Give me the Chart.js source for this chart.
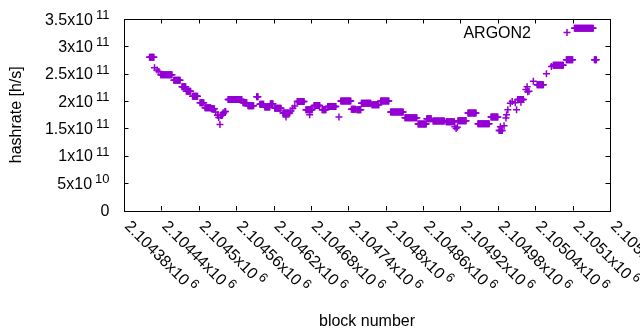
<!DOCTYPE html>
<html><head><meta charset="utf-8">
<script src="https://cdn.jsdelivr.net/npm/chart.js@4/dist/chart.umd.min.js"></script>
<style>html,body{margin:0;padding:0;background:#fff}#wrap{width:640px;height:330px}</style>
</head><body><div id="wrap"><canvas id="c" width="640" height="330"></canvas></div>
<script>
// hashrate plateaus: block range and value
const runStart = [2104421,2104429,2104433,2104436,2104439,2104460,2104473,2104480,2104490,2104502,2104510,2104520,2104527,2104530,2104532,2104534,2104535,2104539,2104542,2104547,2104571,2104579,2104593,2104598,2104606,2104615,2104622,2104635,2104640,2104648,2104651,2104654,2104658,2104672,2104678,2104685,2104698,2104707,2104725,2104728,2104745,2104754,2104761,2104778,2104792,2104808,2104831,2104852,2104866,2104876,2104897,2104911,2104913,2104915,2104916,2104932,2104948,2104969,2104982,2104984,2104990,2104993,2104994,2104996,2105000,2105003,2105008,2105010,2105012,2105017,2105025,2105027,2105028,2105030,2105037,2105043,2105058,2105066,2105069,2105090,2105103,2105135];
const runEnd   = [2104428,2104429,2104433,2104436,2104457,2104470,2104479,2104487,2104498,2104508,2104519,2104525,2104527,2104531,2104532,2104534,2104538,2104540,2104543,2104569,2104577,2104588,2104595,2104604,2104614,2104619,2104632,2104646,2104640,2104648,2104651,2104654,2104669,2104682,2104678,2104694,2104704,2104720,2104725,2104744,2104752,2104760,2104776,2104789,2104805,2104828,2104850,2104865,2104873,2104894,2104910,2104911,2104913,2104915,2104929,2104945,2104966,2104980,2104987,2104984,2104990,2104993,2104994,2104996,2105000,2105003,2105008,2105010,2105021,2105017,2105025,2105027,2105028,2105030,2105037,2105053,2105058,2105066,2105085,2105100,2105133,2105138];
const runRate  = [2.80e11,2.61e11,2.57e11,2.54e11,2.48e11,2.38e11,2.26e11,2.18e11,2.09e11,1.97e11,1.88e11,1.86e11,1.80e11,1.74e11,1.70e11,1.57e11,1.74e11,1.78e11,1.81e11,2.03e11,1.97e11,1.915e11,2.08e11,1.94e11,1.89e11,1.95e11,1.87e11,1.78e11,1.71e11,1.82e11,1.87e11,1.91e11,1.99e11,1.84e11,1.75e11,1.92e11,1.84e11,1.90e11,1.71e11,2.00e11,1.85e11,1.84e11,1.96e11,1.935e11,2.00e11,1.80e11,1.695e11,1.58e11,1.675e11,1.635e11,1.62e11,1.53e11,1.50e11,1.52e11,1.64e11,1.78e11,1.585e11,1.71e11,1.46e11,1.53e11,1.55e11,1.69e11,1.75e11,1.84e11,1.96e11,1.99e11,1.97e11,1.84e11,2.03e11,1.98e11,2.21e11,2.26e11,2.17e11,2.18e11,2.36e11,2.30e11,2.50e11,2.63e11,2.655e11,2.756e11,3.33e11,2.756e11];

const seriesName = 'ARGON2';
const xMin = 2104380, xMax = 2105160;
const yMin = 0, yMax = 3.5e11;
const xTickValues = [2104380,2104440,2104500,2104560,2104620,2104680,2104740,2104800,2104860,2104920,2104980,2105040,2105100,2105160];
const xTickMant = ['2.10438x10','2.10444x10','2.1045x10','2.10456x10','2.10462x10','2.10468x10','2.10474x10','2.1048x10','2.10486x10','2.10492x10','2.10498x10','2.10504x10','2.1051x10','2.10516x10'];
const xTickExp = ['6','6','6','6','6','6','6','6','6','6','6','6','6','6'];
const yTickValues = [0,5e10,1e11,1.5e11,2e11,2.5e11,3e11,3.5e11];
const yTickMant = ['0','5x10','1x10','1.5x10','2x10','2.5x10','3x10','3.5x10'];
const yTickExp = ['','10','11','11','11','11','11','11'];
const xTitle = 'block number';
const yTitle = 'hashrate [h/s]';

const points = [];
for (let i = 0; i < runStart.length; i++) {
  for (let b = runStart[i]; b <= runEnd[i]; b++) points.push({x: b, y: runRate[i]});
}

const COLOR = '#9400d3';
const FONT = '"Liberation Sans", Arial, sans-serif';

const decor = {
  id: 'decor',
  afterDraw(chart) {
    const ctx = chart.ctx, a = chart.chartArea;
    const xs = chart.scales.x, ys = chart.scales.y;
    ctx.save();
    ctx.strokeStyle = '#000'; ctx.lineWidth = 1;
    ctx.strokeRect(Math.round(a.left) + 0.5, Math.round(a.top) + 0.5, Math.round(a.right - a.left), Math.round(a.bottom - a.top));
    ctx.beginPath();
    const T = 4.5;
    yTickValues.forEach(v => {
      const y = Math.round(ys.getPixelForValue(v)) + 0.5;
      ctx.moveTo(a.left, y); ctx.lineTo(a.left + T, y);
      ctx.moveTo(a.right, y); ctx.lineTo(a.right - T, y);
    });
    xTickValues.forEach(v => {
      const x = Math.round(xs.getPixelForValue(v)) + 0.5;
      ctx.moveTo(x, a.bottom); ctx.lineTo(x, a.bottom - T);
      ctx.moveTo(x, a.top); ctx.lineTo(x, a.top + T);
    });
    ctx.stroke();

    ctx.fillStyle = '#000';
    // y tick labels
    yTickValues.forEach((v, i) => {
      const y = ys.getPixelForValue(v);
      const right = 109.5;
      ctx.font = '13px ' + FONT;
      const ew = yTickExp[i] ? ctx.measureText(yTickExp[i]).width : 0;
      if (yTickExp[i]) { ctx.textAlign = 'right'; ctx.textBaseline = 'alphabetic'; ctx.fillText(yTickExp[i], right, y); }
      ctx.font = '16px ' + FONT;
      ctx.textAlign = 'right'; ctx.textBaseline = 'alphabetic';
      ctx.fillText(yTickMant[i], right - ew - (ew ? 3 : 0), y + 5.5);
    });
    // x tick labels (rotated)
    xTickValues.forEach((v, i) => {
      const x = xs.getPixelForValue(v);
      ctx.save();
      ctx.translate(x + 3, a.bottom + 13.5);
      ctx.rotate(Math.PI / 4);
      ctx.font = '16px ' + FONT;
      ctx.textAlign = 'left'; ctx.textBaseline = 'middle';
      ctx.fillText(xTickMant[i], 0, 0);
      const w = ctx.measureText(xTickMant[i]).width;
      ctx.font = '13px ' + FONT;
      ctx.fillText(xTickExp[i], w + 3, -5);
      ctx.restore();
    });
    // axis titles
    ctx.font = '16px ' + FONT;
    ctx.textAlign = 'center'; ctx.textBaseline = 'alphabetic';
    ctx.fillText(xTitle, (a.left + a.right) / 2, 325.5);
    ctx.save();
    ctx.translate(20.5, (a.top + a.bottom) / 2);
    ctx.rotate(-Math.PI / 2);
    ctx.fillText(yTitle, 0, 0);
    ctx.restore();
    // key
    ctx.textAlign = 'right'; ctx.textBaseline = 'alphabetic';
    ctx.fillText(seriesName, 531, 37.5);
    ctx.strokeStyle = COLOR; ctx.lineWidth = 1.5;
    ctx.beginPath();
    ctx.moveTo(563.5, 32.5); ctx.lineTo(570.5, 32.5);
    ctx.moveTo(567, 29); ctx.lineTo(567, 36);
    ctx.stroke();
    ctx.restore();
  }
};

new Chart(document.getElementById('c'), {
  type: 'scatter',
  data: { datasets: [{
    label: seriesName, data: points,
    pointStyle: 'cross', pointRadius: 3.5, pointHoverRadius: 3.5,
    borderColor: COLOR, backgroundColor: COLOR, borderWidth: 1.5
  }]},
  options: {
    responsive: false, animation: false, devicePixelRatio: 1, events: [],
    layout: { padding: { top: 19, right: 30, bottom: 0, left: 0 } },
    plugins: { legend: { display: false }, tooltip: { enabled: false } },
    scales: {
      x: { type: 'linear', min: xMin, max: xMax, ticks: { display: false }, grid: { display: false }, border: { display: false },
           afterFit(s) { s.height = 119.5; } },
      y: { type: 'linear', min: yMin, max: yMax, ticks: { display: false }, grid: { display: false }, border: { display: false },
           afterFit(s) { s.width = 124; } }
    }
  },
  plugins: [decor]
});
</script>
</body></html>
